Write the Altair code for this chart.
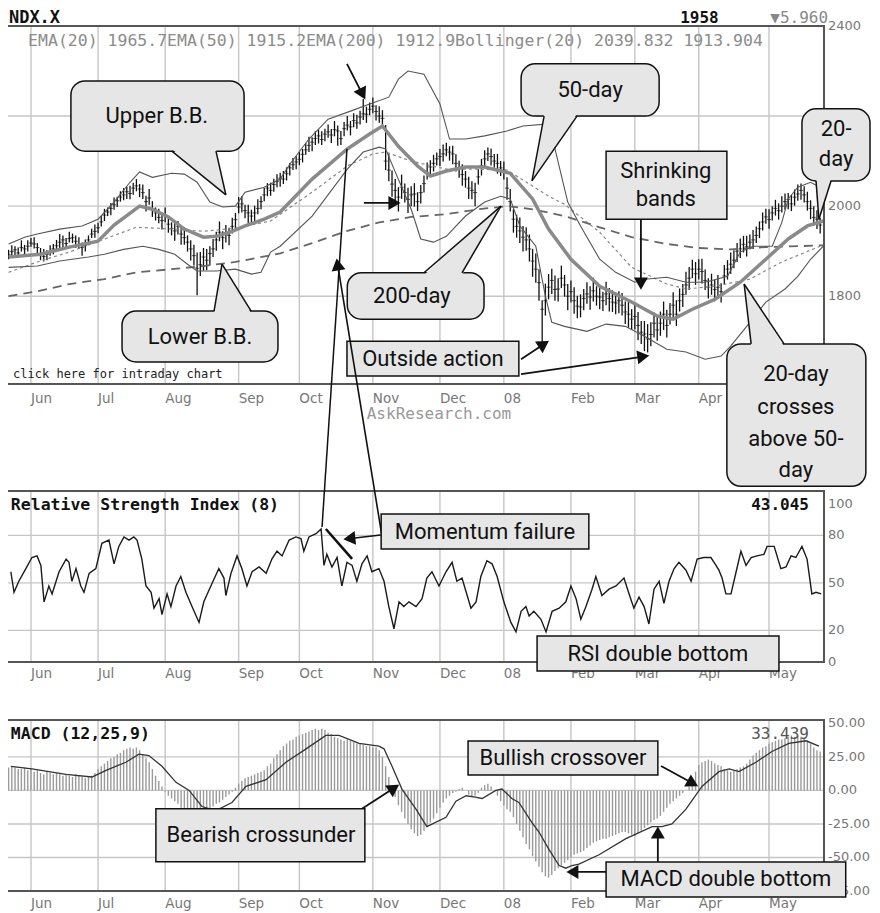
import altair as alt
import pandas as pd

# ---------------- axes / categories ----------------
month_idx = [0, 21, 42, 65, 84, 107, 128, 148, 169, 189, 209, 231]
month_lbl = ["Jun", "Jul", "Aug", "Sep", "Oct", "Nov", "Dec", "08", "Feb", "Mar", "Apr", "May"]
price_ticks = [1800, 2000, 2400]          # 2200 is hidden behind the "20-day" bubble
price_grid = [1800, 2000, 2200]
rsi_ticks = [0, 20, 50, 80, 100]
rsi_grid = [20, 50, 80]
macd_ticks = [-75, -50, -25, 0, 25, 50]
macd_grid = [-50, -25, 0, 25]

# ---------------- daily price bars (trading-day index, Jun 1 2007 = 0) ----------------
first_day = -7
close = [int(v) for v in """
1893 1899 1903 1896 1908 1905 1911 1918 1916 1908
1895 1888 1893 1899 1905 1912 1920 1925 1917 1928
1930 1922 1915 1908 1912 1925 1938 1944 1952 1965
1980 1987 1995 2003 2012 2020 2025 2032 2028 2040
2045 2038 2030 2010 2018 1995 1985 1975 1968 1980
1960 1950 1945 1955 1938 1930 1920 1905 1890 1862
1870 1887 1880 1895 1905 1925 1942 1930 1938 1935
1955 1970 1998 2005 1990 1985 1978 1985 1995 2010
2025 2040 2035 2048 2055 2062 2060 2072 2085 2092
2098 2104 2115 2125 2135 2142 2150 2156 2148 2160
2165 2158 2170 2167 2150 2172 2180 2176 2190 2185
2198 2205 2204 2215 2222 2210 2200 2195 2100 2080
2049 2035 2020 2042 2030 2015 2025 2027 2010 2030
2050 2075 2087 2095 2105 2110 2116 2125 2120 2116
2095 2085 2070 2060 2040 2035 2030 2065 2090 2105
2116 2110 2100 2095 2085 2080 2040 2010 1971 1955
1945 1931 1925 1905 1878 1860 1830 1771 1790 1820
1835 1815 1816 1840 1825 1800 1810 1790 1778 1776
1795 1805 1798 1812 1800 1798 1790 1805 1795 1787
1785 1790 1780 1765 1760 1749 1755 1735 1720 1716
1705 1715 1740 1725 1740 1760 1735 1760 1780 1760
1790 1804 1825 1840 1860 1850 1860 1855 1835 1820
1825 1815 1820 1810 1845 1860 1871 1880 1900 1905
1915 1910 1920 1925 1935 1950 1965 1976 1970 1985
1995 1990 2000 2010 2015 2005 2020 2027 2035 2025
2010 1995 1975 1971 1958
""".split()]

hi_off = [int(v) for v in """
10 14 8 12 16 9 13 11 15 10
12 17 9 14 11 13 18 10 12 15
9 13 16 11 14 10 12 15 11 13
14 10 12 16 9 13 15 11 17 12
15 11 18 13 20 16 12 19 14 17
18 14 21 12 17 23 15 19 24 35
28 20 25 16 22 18 24 14 20 17
19 15 22 17 13 18 14 16 20 12
15 11 17 13 16 12 18 14 11 15
13 17 12 15 19 11 16 14 18 12
16 13 19 12 17 15 20 13 16 18
14 33 17 15 19 14 22 18 80 35
30 25 22 28 20 26 19 24 21 17
18 22 15 19 14 17 21 16 13 18
20 16 23 18 25 20 22 17 15 19
14 18 16 21 15 19 24 28 22 26
30 25 28 32 27 35 30 20 38 29
26 31 24 28 22 27 25 30 23 28
21 26 24 29 22 25 20 27 23 26
24 21 27 23 28 22 26 30 25 29
33 27 24 30 26 28 35 25 29 31
27 23 29 25 21 26 22 28 24 20
25 21 27 19 24 20 26 22 18 23
19 24 17 22 20 16 21 18 23 15
19 16 22 18 14 20 17 21 15 19
22 18 25 20 16
""".split()]

lo_off = [int(v) for v in """
11 8 14 10 9 13 12 8 10 14
15 11 13 9 12 10 14 16 11 9
12 15 10 18 13 11 9 14 12 10
13 9 15 11 14 10 12 16 13 15
12 18 14 22 15 19 17 13 20 16
19 15 22 18 24 16 21 26 22 60
25 30 22 27 18 24 20 26 19 22
16 21 14 19 17 23 15 20 13 17
14 18 12 16 13 19 11 15 17 12
16 13 18 11 15 20 14 17 12 16
13 18 15 33 14 17 12 19 15 13
17 14 19 13 16 20 15 18 20 25
28 24 32 26 22 30 25 28 21 24
20 16 22 18 15 21 17 14 19 23
18 22 25 19 24 20 30 17 22 18
16 20 15 23 18 21 26 22 30 25
27 32 24 28 35 30 40 73 33 27
30 25 28 22 26 31 24 29 27 23
26 22 28 24 21 27 23 25 29 22
25 28 23 27 30 24 29 33 26 38
30 26 32 24 28 35 27 23 30 26
24 28 22 26 20 25 23 27 21 25
22 26 20 24 19 23 21 18 24 20
18 22 16 20 17 21 19 15 20 17
16 20 14 18 22 16 19 15 21 17
20 24 18 22 19
""".split()]

# ---------------- overlays ----------------
ema20_x = [-7, 3, 12, 21, 26, 34, 38, 43, 48, 54, 58, 63, 67, 73, 78, 88, 99, 106, 110, 115, 121, 125,
           130, 136, 142, 150, 157, 162, 169, 178, 188, 196, 201, 207, 214, 222, 230, 237, 243, 248]
ema20_v = [1887, 1893, 1909, 1922, 1958, 2000, 1993, 1976, 1949, 1931, 1933, 1944, 1956, 1971, 1987, 2060,
           2127, 2160, 2178, 2133, 2089, 2067, 2078, 2087, 2087, 2073, 2016, 1949, 1882, 1822, 1787, 1756,
           1749, 1771, 1793, 1831, 1882, 1927, 1956, 1967]

ema50_x = [-7, 2, 12, 23, 33, 45, 54, 64, 75, 88, 99, 107, 111, 119, 130, 140, 149, 156, 162, 167, 178,
           188, 199, 205, 214, 225, 235, 247]
ema50_v = [1853, 1876, 1898, 1927, 1953, 1949, 1944, 1951, 1967, 2031, 2089, 2116, 2120, 2100, 2082, 2082,
           2080, 2049, 2022, 2004, 1942, 1864, 1827, 1816, 1822, 1838, 1876, 1911]

ema200_x = [-7, 2, 12, 23, 33, 44, 54, 64, 78, 88, 99, 109, 119, 130, 140, 149, 157, 167, 178, 188, 199,
            209, 219, 230, 240, 248]
ema200_v = [1800, 1811, 1827, 1838, 1853, 1860, 1867, 1876, 1895, 1918, 1945, 1964, 1976, 1982, 1993, 2000,
            1993, 1978, 1953, 1931, 1916, 1907, 1904, 1909, 1911, 1913]

bbu_x = [-7, -2, 2, 9, 16, 21, 26, 31, 34, 38, 44, 48, 52, 56, 60, 64, 67, 73, 78, 81, 87, 93, 100, 106,
         112, 115, 118, 123, 128, 131, 136, 142, 149, 154, 161, 164, 168, 172, 178, 183, 189, 193, 199,
         205, 211, 218, 222, 226, 232, 235, 237, 240, 244, 248]
bbu_v = [1916, 1931, 1938, 1949, 1956, 1971, 2009, 2053, 2076, 2064, 2073, 2071, 2053, 2009, 1998, 2000,
         2031, 2042, 2060, 2093, 2149, 2193, 2211, 2227, 2242, 2282, 2300, 2293, 2227, 2149, 2149, 2156,
         2167, 2178, 2182, 2127, 2009, 1956, 1882, 1853, 1831, 1838, 1842, 1831, 1831, 1844, 1898, 1911,
         1911, 1964, 2016, 2042, 2053, 2038]

bbl_x = [-7, 2, 9, 18, 23, 29, 35, 40, 45, 49, 52, 58, 64, 69, 72, 75, 78, 88, 99, 104, 109, 111, 114,
         119, 122, 126, 130, 136, 142, 147, 150, 153, 158, 161, 163, 167, 174, 180, 186, 192, 199, 205,
         211, 216, 219, 224, 230, 236, 240, 244, 248]
bbl_v = [1864, 1867, 1878, 1887, 1893, 1904, 1911, 1904, 1893, 1871, 1856, 1856, 1860, 1849, 1853, 1898,
         1911, 1978, 2082, 2120, 2131, 2127, 2076, 1993, 1927, 1920, 1933, 1978, 2009, 2022, 2016, 1956,
         1911, 1800, 1742, 1733, 1722, 1738, 1733, 1711, 1682, 1676, 1660, 1667, 1689, 1733, 1787, 1816,
         1844, 1882, 1911]

rsi_x = [-6.3, -5.3, -3.8, -1.6, 0.3, 1.9, 3.1, 4.1, 5.6, 6.6, 8.8, 11.0, 11.9, 12.8, 14.1, 15.6, 16.6,
         18.2, 20.3, 22.2, 24.4, 26.0, 27.5, 29.1, 30.7, 32.2, 33.2, 34.7, 36.0, 37.6, 38.5, 40.1, 41.0,
         42.6, 43.8, 45.4, 46.9, 48.5, 50.4, 52.6, 54.1, 56.3, 58.8, 60.4, 61.0, 62.6, 64.5, 66.0, 67.6,
         69.2, 71.4, 73.6, 75.4, 77.0, 78.6, 80.8, 82.9, 84.5, 85.4, 87.0, 89.2, 90.8, 91.7, 92.6, 94.2,
         95.8, 97.3, 98.9, 100.5, 102.0, 103.6, 105.2, 106.7, 108.9, 110.5, 112.0, 113.6, 115.2, 116.7,
         118.3, 120.5, 122.4, 123.9, 125.5, 127.7, 129.9, 131.8, 133.3, 134.9, 137.7, 139.3, 140.8, 142.7,
         144.3, 145.9, 148.0, 150.2, 151.8, 153.4, 154.9, 155.9, 157.4, 159.6, 161.2, 163.1, 165.3, 167.4,
         169.0, 170.6, 172.1, 173.7, 175.6, 176.8, 178.7, 180.9, 183.1, 185.6, 187.2, 188.7, 190.3, 191.9,
         193.4, 195.0, 196.6, 198.1, 199.7, 201.3, 202.8, 205.0, 206.6, 208.5, 210.6, 212.8, 214.4, 215.3,
         216.3, 217.5, 219.1, 220.7, 222.2, 223.8, 225.4, 227.2, 229.4, 230.4, 232.6, 234.7, 236.3, 237.9,
         239.4, 241.3, 242.9, 244.4, 245.7, 247.3]
rsi_v = [57, 44, 51, 59, 66, 67, 61, 38, 48, 43, 57, 65, 63, 51, 59, 48, 44, 56, 59, 75, 77, 62, 73, 79,
         77, 79, 77, 65, 48, 44, 34, 40, 30, 43, 35, 48, 54, 44, 35, 25, 38, 48, 59, 53, 42, 56, 67, 59,
         48, 57, 60, 56, 65, 70, 67, 77, 79, 78, 70, 79, 81, 84, 61, 68, 60, 66, 48, 63, 61, 51, 62, 67,
         57, 59, 51, 35, 21, 38, 35, 38, 35, 40, 53, 57, 48, 57, 63, 51, 53, 34, 38, 54, 64, 62, 54, 38,
         25, 19, 32, 35, 29, 32, 27, 19, 32, 34, 38, 48, 40, 27, 35, 46, 54, 42, 46, 48, 53, 43, 34, 41,
         35, 24, 46, 51, 37, 51, 59, 63, 58, 51, 65, 66, 66, 61, 58, 53, 43, 43, 57, 70, 61, 66, 67, 68,
         73, 73, 59, 60, 67, 66, 73, 65, 43, 44, 43]

macd_bar = [int(v) for v in """
17 18 17 16 16 17 15 16
14 15 13 12 14 13 12 13 12 11
12 11 10 12 11 10 9 10 11 13
16 18 20 22 24 25 27 28 30 31
32 31 32 30 27 24 21 16 11 7
3 -1 -4 -6 -8 -10 -13 -15 -16 -17
-17 -19 -16 -15 -14 -14 -12 -10 -9 -7
-5 -3 -1 2 5 7 9 10 11 12
13 14 15 18 20 24 27 30 33 35
37 38 40 41 42 43 44 45 46 45
46 45 43 42 40 39 38 37 38 37
36 35 35 34 33 33 32 32 30 25
18 10 2 -5 -11 -16 -21 -25 -29 -32
-34 -33 -30 -27 -24 -21 -17 -13 -9 -6
-4 -2 -1 1 2 0 -3 -5 -4 -2
2 4 5 3 0 -4 -8 -11 -14 -16
-20 -25 -30 -35 -40 -44 -49 -53 -57 -61
-64 -65 -63 -60 -58 -56 -54 -52 -50 -48
-47 -46 -45 -43 -41 -39 -38 -37 -36 -36
-35 -34 -33 -32 -31 -31 -32 -33 -34 -32
-30 -28 -26 -24 -22 -21 -19 -16 -13 -10
-8 -6 -4 -2 0 3 8 14 19 21
22 23 22 20 19 18 16 15 14 15
16 17 18 20 23 26 28 30 32 33
35 36 37 38 38 39 40 41 40 41
40 39 37 35 32 30 29
""".split()]

macd_line_x = [-6.3, 0.3, 5.6, 11.0, 19.1, 23.5, 29.7, 33.8, 36.9, 41.0, 45.4, 49.5, 53.5, 57.9, 62.9,
               67.3, 73.6, 79.8, 86.1, 92.3, 96.4, 102.7, 108.9, 110.5, 113.0, 116.1, 120.5, 123.9, 129.9,
               133.0, 136.2, 139.0, 141.2, 145.5, 147.4, 150.5, 152.7, 156.8, 159.0, 162.1, 165.3, 167.4,
               169.3, 171.5, 177.8, 186.2, 194.4, 197.5, 200.6, 205.0, 210.0, 215.3, 218.5, 221.6, 226.9,
               231.9, 237.2, 242.6, 246.6]
macd_line_v = [18, 16, 14, 12, 10, 15, 21, 27, 26, 18, 6, 0, -12, -15, -9, 3, 8, 21, 31, 41, 41, 35, 33,
               31, 18, 1, -14, -27, -20, -8, -4, -5, -6, 0, 1, -6, -9, -24, -31, -44, -56, -58, -56, -55,
               -48, -36, -27, -27, -25, -14, 3, 14, 16, 14, 21, 29, 35, 37, 33]

# ---------------- styling ----------------
INK = "#111111"
FILL = "#e6e6e6"
GRID = "#c6c6c6"
LABEL = "#777777"
FRAME = "#555555"
MONO = "DejaVu Sans Mono"
ANN = "Roboto"
W = 817

XS = alt.Scale(domain=[-7.5, 248.2], nice=False, zero=False)
PS = alt.Scale(domain=[1605, 2400], nice=False, zero=False)
RS = alt.Scale(domain=[0, 108], nice=False, zero=False)
MS = alt.Scale(domain=[-75, 52.5], nice=False, zero=False)


def X(f="x"):
    return alt.X(f"{f}:Q", scale=XS, axis=None)


def Y(ys, f="y"):
    return alt.Y(f"{f}:Q", scale=ys, axis=None)


def guides(ys, height, grid_vals, tick_vals, tick_text, month_dy, months_shown):
    vgrid = alt.Chart(pd.DataFrame({"x": month_idx})).mark_rule(color=GRID, strokeWidth=1.4).encode(x=X())
    hgrid = alt.Chart(pd.DataFrame({"y": grid_vals})).mark_rule(color=GRID, strokeWidth=1.4).encode(y=Y(ys))
    mdf = pd.DataFrame({"x": month_idx, "t": month_lbl})
    mdf = mdf[mdf["t"].isin(months_shown)]
    months = alt.Chart(mdf).mark_text(
        align="left", baseline="middle", font="DejaVu Sans", fontSize=13.5, color=LABEL).encode(
        x=X(), y=alt.value(height + month_dy), text="t:N")
    ylab = alt.Chart(pd.DataFrame({"y": tick_vals, "t": tick_text})).mark_text(
        align="left", baseline="middle", font="DejaVu Sans", fontSize=13, color=LABEL).encode(
        x=alt.value(W + 4), y=Y(ys), text="t:N")
    frame = alt.Chart(pd.DataFrame({"a": [0]})).mark_rect(fill="transparent", stroke=FRAME, strokeWidth=2).encode(
        x=alt.value(0), x2=alt.value(W), y=alt.value(0), y2=alt.value(height))
    return [vgrid, hgrid], [frame, months, ylab]


def line(xs, vs, ys, **kw):
    df = pd.DataFrame({"x": xs, "y": vs})
    return alt.Chart(df).mark_line(**kw).encode(x=X(), y=Y(ys))


def texts(rows, ys, **kw):
    df = pd.DataFrame(rows, columns=["t", "x", "y"])
    return alt.Chart(df).mark_text(**kw).encode(x=X(), y=Y(ys), text="t:N")


def boxes(rows, ys, radius):
    df = pd.DataFrame(rows, columns=["x", "x2", "y", "y2"])
    return alt.Chart(df).mark_rect(cornerRadius=radius, fill=FILL, stroke=INK, strokeWidth=1.5,
                                   opacity=1).encode(x=X(), x2=alt.X2("x2"), y=Y(ys), y2=alt.Y2("y2"))


def segs(rows, ys, width):
    df = pd.DataFrame(rows, columns=["x", "y", "x2", "y2"])
    return alt.Chart(df).mark_rule(color=INK, strokeWidth=width).encode(
        x=X(), y=Y(ys), x2=alt.X2("x2"), y2=alt.Y2("y2"))


def tails(rows, ys):
    # rows: (xa, xb, base_y, inner_y, tip_x, tip_y)
    area_rows, edge_rows = [], []
    for i, (xa, xb, by, iy, tx, ty) in enumerate(rows):
        area_rows.append({"id": i, "y": iy, "xa": xa, "xb": xb})
        area_rows.append({"id": i, "y": ty, "xa": tx, "xb": tx})
        edge_rows.append([xa, by, tx, ty])
        edge_rows.append([xb, by, tx, ty])
    area = alt.Chart(pd.DataFrame(area_rows)).mark_area(orient="horizontal", fill=FILL, opacity=1).encode(
        y=Y(ys), x=X("xa"), x2=alt.X2("xb"), detail="id:N")
    return [area, segs(edge_rows, ys, 1.5)]


def heads(rows, ys):
    df = pd.DataFrame(rows, columns=["x", "y", "a"])
    return alt.Chart(df).mark_point(shape="triangle-up", filled=True, fill=INK, stroke=INK, size=110,
                                    opacity=1).encode(x=X(), y=Y(ys), angle=alt.Angle("a:Q", scale=None))


ann_text = dict(font=ANN, fontSize=22, color=INK, align="center", baseline="middle")

# ---------------- price panel ----------------
PH = 358
days = list(range(first_day, first_day + len(close)))
price_df = pd.DataFrame({"x": days, "c": close,
                         "h": [c + h for c, h in zip(close, hi_off)],
                         "l": [c - l for c, l in zip(close, lo_off)]})

p_under, p_over = guides(PS, PH, price_grid, price_ticks, [str(v) for v in price_ticks], 15,
                         month_lbl[:-1])
p_bars = alt.Chart(price_df).mark_rule(color="#111", strokeWidth=1.3).encode(
    x=X(), y=Y(PS, "l"), y2=alt.Y2("h"))
p_close = alt.Chart(price_df).mark_tick(orient="horizontal", size=4, thickness=1, color="#111").encode(
    x=X(), y=Y(PS, "c"))

price_layers = [
    *p_under,
    p_bars, p_close,
    line(ema200_x, ema200_v, PS, color="#666", strokeWidth=1.8, strokeDash=[9, 6]),
    line(ema50_x, ema50_v, PS, color="#888", strokeWidth=1.2, strokeDash=[3, 3]),
    line(bbu_x, bbu_v, PS, color="#555", strokeWidth=1.1),
    line(bbl_x, bbl_v, PS, color="#555", strokeWidth=1.1),
    line(ema20_x, ema20_v, PS, color="#8a8a8a", strokeWidth=3.5),
    *p_over,
    texts([["NDX.X", -6.9, 2418]], PS, font=MONO, fontSize=17, fontWeight="bold", color=INK, align="left"),
    texts([["1958", 203.2, 2418]], PS, font=MONO, fontSize=16, fontWeight="bold", color=INK, align="left"),
    texts([["\u25bc5.960", 231.4, 2418]], PS, font=MONO, fontSize=16, color="#888", align="left"),
    texts([["EMA(20) 1965.7", -0.9, 2367], ["EMA(50) 1915.2", 42.6, 2367],
           ["EMA(200) 1912.9", 86.1, 2367], ["Bollinger(20) 2039.832 1913.904", 132.7, 2367]],
          PS, font=MONO, fontSize=16.5, color="#8c8c8c", align="left"),
    texts([["click here for intraday chart", -5.6, 1627]], PS, font=MONO, fontSize=12, color="#222",
          align="left"),
    texts([["AskResearch.com", 127.7, 1538]], PS, font=MONO, fontSize=16, color="#999", align="center"),
    # arrows on the price chart
    segs([[104.2, 2007, 115.2, 2007], [98.9, 2316, 104.2, 2242], [190.9, 1971, 190.9, 1820],
          [153.4, 1660, 161.5, 1698], [153.4, 1627, 192.8, 1667]], PS, 1.8),
    heads([[113.6, 2007, 90], [103.7, 2250, 153], [190.9, 1829, 180], [160.4, 1693, 57],
           [191.5, 1666, 82]], PS),
    # speech bubbles
    boxes([[12.5, 66.7, 2278, 2122], [28.5, 77.3, 1767, 1654], [153.4, 196.6, 2316, 2200],
           [241.3, 262.6, 2216, 2056], [99.0, 141.8, 1852, 1749], [217.8, 261.3, 1694, 1378]], PS, 14),
    *tails([[44.1, 57.9, 2122, 2127, 61.0, 2025], [57.3, 68.9, 1767, 1762, 59.8, 1871],
            [160.6, 170.9, 2200, 2205, 156.8, 2056], [245.7, 250.4, 2056, 2061, 246.6, 1971],
            [123.0, 134.9, 1852, 1847, 147.1, 2000], [225.4, 235.7, 1694, 1689, 223.2, 1827]], PS),
    boxes([[180.0, 217.8, 2122, 1971], [98.9, 152.7, 1700, 1623]], PS, 0),
    texts([["Upper B.B.", 39.4, 2200], ["Lower B.B.", 52.9, 1709], ["50-day", 175.0, 2258],
           ["20-", 252.0, 2171], ["day", 252.0, 2105], ["200-day", 119.2, 1800],
           ["20-day", 239.4, 1627], ["crosses", 239.4, 1554], ["above 50-", 239.4, 1483],
           ["day", 239.4, 1414], ["Shrinking", 198.7, 2078], ["bands", 198.7, 2016],
           ["Outside action", 125.8, 1661]], PS, **ann_text),
]
price = alt.layer(*price_layers).properties(width=W, height=PH)

# ---------------- RSI panel ----------------
RH = 171
r_under, r_over = guides(RS, RH, rsi_grid, rsi_ticks, [str(v) for v in rsi_ticks], 12, month_lbl)
rsi_layers = [
    *r_under,
    line(rsi_x, rsi_v, RS, color="#1a1a1a", strokeWidth=1.4),
    *r_over,
    texts([["Relative Strength Index (8)", -6.3, 99]], RS, font=MONO, fontSize=16.5, fontWeight="bold",
          color=INK, align="left"),
    texts([["43.045", 243.5, 99]], RS, font=MONO, fontSize=16, fontWeight="bold", color=INK, align="right"),
    segs([[91.1, 85.3, 98.9, 324.1]], RS, 1.5),
    segs([[92.3, 84.0, 100.5, 65.1]], RS, 2.6),
    segs([[109.9, 79.0, 95.8, 253.3], [109.5, 80.2, 98.6, 77.7]], RS, 1.6),
    heads([[96.0, 250.8, 351], [99.8, 78.0, 264]], RS),
    boxes([[109.6, 174.6, 93.5, 71.4], [158.4, 234.1, 16.4, -5.7]], RS, 0),
    texts([["Momentum failure", 142.1, 82.1], ["RSI double bottom", 196.2, 5.1]], RS, **ann_text),
]
rsi = alt.layer(*rsi_layers).properties(width=W, height=RH)

# ---------------- MACD panel ----------------
MH = 171
m_under, m_over = guides(MS, MH, macd_grid, macd_ticks, [f"{v:.2f}" for v in macd_ticks], 13, month_lbl)
macd_df = pd.DataFrame({"x": days, "v": macd_bar, "z": [0] * len(macd_bar)})
macd_bars = alt.Chart(macd_df).mark_rule(color="#9a9a9a", strokeWidth=1.4).encode(
    x=X(), y=Y(MS, "v"), y2=alt.Y2("z"))

macd_layers = [
    *m_under,
    macd_bars,
    line(macd_line_x, macd_line_v, MS, color="#333", strokeWidth=1.3),
    *m_over,
    texts([["MACD (12,25,9)", -6.3, 42.1]], MS, font=MONO, fontSize=16.5, fontWeight="bold", color=INK,
          align="left"),
    texts([["33.439", 243.5, 42.1]], MS, font=MONO, fontSize=16, color="#555", align="right"),
    segs([[103.6, -13.7, 114.6, 3.3], [197.2, 18.2, 208.1, 4.0], [180.0, -60.8, 168.4, -60.8],
          [196.2, -53.3, 196.2, -28.8]], MS, 1.8),
    heads([[113.5, 1.6, 57], [207.0, 5.4, 119], [169.6, -60.8, 270], [196.2, -31.8, 0]], MS),
    boxes([[39.1, 104.5, -13.7, -53.2], [136.8, 196.2, 36.8, 11.5], [180.0, 255.0, -53.3, -79.4]], MS, 0),
    texts([["Bearish crossunder", 72.0, -33.3], ["Bullish crossover", 166.5, 24.2],
           ["MACD double bottom", 217.5, -66.0]], MS, **ann_text),
]
macd = alt.layer(*macd_layers).properties(width=W, height=MH)


def spacer(h):
    return alt.Chart(pd.DataFrame({"x": [0]})).mark_point(opacity=0).encode(
        x=alt.X("x:Q", axis=None), y=alt.Y("x:Q", axis=None)).properties(width=W, height=h)


chart = alt.vconcat(price, spacer(107), rsi, spacer(58), macd, spacing=0, bounds="flush").properties(
    padding={"left": -7, "top": 0, "right": 0, "bottom": 0}).configure_view(stroke=None)

chart.save("out.html", embed_options={"renderer": "svg", "actions": False})
